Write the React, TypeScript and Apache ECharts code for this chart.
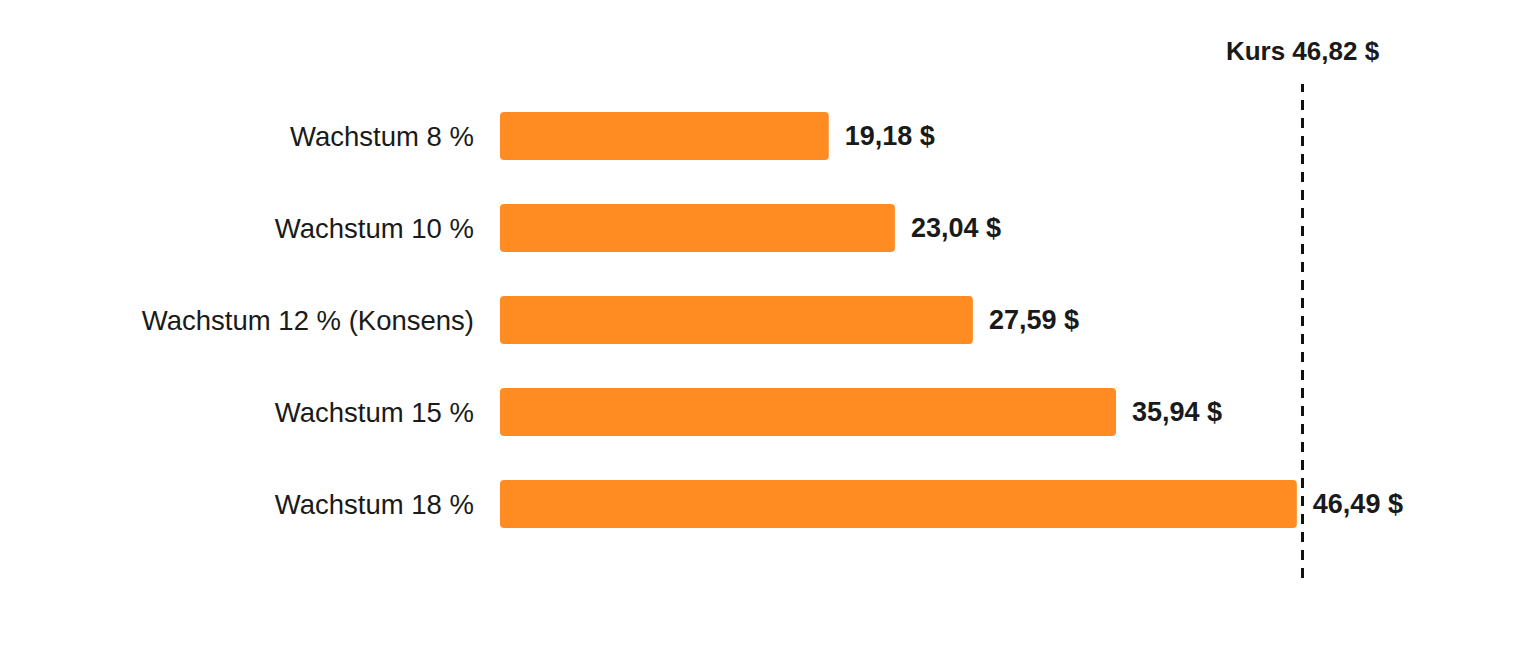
import React, { useEffect, useRef } from "react";
import * as echarts from "echarts";

const categories = [
  "Wachstum 8 %",
  "Wachstum 10 %",
  "Wachstum 12 % (Konsens)",
  "Wachstum 15 %",
  "Wachstum 18 %",
];
const values = [19.18, 23.04, 27.59, 35.94, 46.49];
const kurs = 46.82;

const fmt = (v: number) => v.toFixed(2).replace(".", ",") + " $";

const FONT = "'Liberation Sans', Arial, Helvetica, sans-serif";

export default function App() {
  const el = useRef<HTMLDivElement>(null);

  useEffect(() => {
    document.body.style.margin = "0";
    if (!el.current) return;
    const chart = echarts.init(el.current, null, { renderer: "svg" });
    chart.setOption({
      animation: false,
      backgroundColor: "#ffffff",
      textStyle: { fontFamily: FONT },
      grid: [
        { left: 500, width: 857, top: 90, bottom: 102 },
        { left: 500, width: 857, top: 84, bottom: 74 },
      ],
      xAxis: [
        { type: "value", gridIndex: 0, min: 0, max: 50, show: false },
        { type: "value", gridIndex: 1, min: 0, max: 50, show: false },
      ],
      yAxis: [
        {
          type: "category",
          gridIndex: 0,
          inverse: true,
          data: categories,
          axisLine: { show: false },
          axisTick: { show: false },
          axisLabel: {
            margin: 26,
            fontSize: 27.5,
            color: "#1a1a1a",
            fontFamily: FONT,
          },
        },
        { type: "value", gridIndex: 1, min: 0, max: 1, show: false },
      ],
      series: [
        {
          type: "bar",
          xAxisIndex: 0,
          yAxisIndex: 0,
          data: values,
          barWidth: 48,
          itemStyle: { color: "#FE8C22", borderRadius: 4 },
          label: {
            show: true,
            position: "right",
            distance: 16,
            fontSize: 27,
            fontWeight: "bold",
            color: "#1a1a1a",
            fontFamily: FONT,
            formatter: (p: any) => fmt(p.value),
          },
        },
        {
          type: "line",
          xAxisIndex: 1,
          yAxisIndex: 1,
          data: [],
          markLine: {
            silent: true,
            symbol: "none",
            lineStyle: { color: "#111111", width: 3, type: [10, 8] },
            label: {
              show: true,
              position: "end",
              distance: 20,
              fontSize: 26,
              fontWeight: "bold",
              color: "#1a1a1a",
              fontFamily: FONT,
              formatter: "Kurs " + fmt(kurs),
            },
            data: [{ xAxis: kurs }],
          },
        },
      ],
    });
    return () => chart.dispose();
  }, []);

  return <div ref={el} style={{ width: 1520, height: 652 }} />;
}
